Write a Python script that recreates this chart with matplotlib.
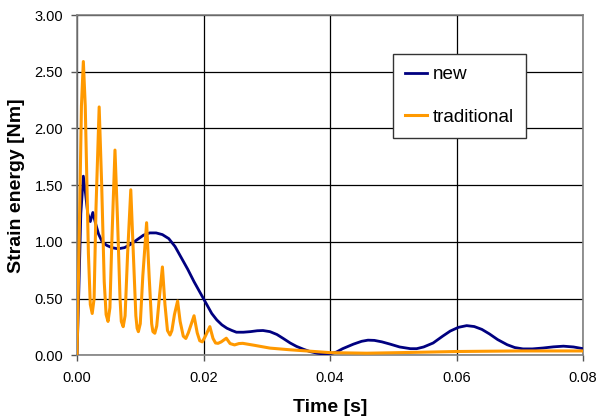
import matplotlib
matplotlib.use("Agg")
import matplotlib.pyplot as plt

plt.rcParams['font.family'] = ['Liberation Sans', 'DejaVu Sans']

# values
t_new = [0.0, 0.0003, 0.0006, 0.001, 0.0013, 0.0017, 0.0021, 0.0025, 0.0029, 0.0034,
         0.004, 0.0047, 0.0055, 0.0065, 0.0075, 0.0085, 0.0095, 0.0105, 0.0115, 0.0125,
         0.0135, 0.0145, 0.0155, 0.0165, 0.0175, 0.0185, 0.0195, 0.0205, 0.0213, 0.0221,
         0.0229, 0.0237, 0.0245, 0.0252, 0.0263, 0.0274, 0.0285, 0.0294, 0.0305, 0.0316,
         0.0326, 0.0337, 0.0347, 0.0358, 0.0368, 0.038, 0.039, 0.04, 0.041, 0.042,
         0.0437, 0.045, 0.046, 0.047, 0.0482, 0.0495, 0.051, 0.0527, 0.0537, 0.0548,
         0.0563, 0.0578, 0.059, 0.0603, 0.0616, 0.0628, 0.064, 0.0652, 0.0665, 0.068,
         0.0692, 0.0705, 0.072, 0.0737, 0.0753, 0.0769, 0.0785, 0.08]
e_new = [0.0, 0.6, 1.25, 1.58, 1.45, 1.25, 1.18, 1.26, 1.17, 1.07,
         1.0, 0.97, 0.95, 0.94, 0.95, 0.98, 1.02, 1.06, 1.08, 1.08,
         1.065, 1.03, 0.96, 0.86, 0.76, 0.65, 0.55, 0.45, 0.37, 0.313,
         0.27, 0.24, 0.22, 0.205, 0.205, 0.21, 0.218, 0.22, 0.21, 0.185,
         0.15, 0.11, 0.08, 0.055, 0.035, 0.02, 0.013, 0.015, 0.03, 0.06,
         0.1, 0.125, 0.135, 0.133, 0.12, 0.1, 0.075, 0.06, 0.06, 0.075,
         0.11, 0.17, 0.215, 0.248, 0.263, 0.255, 0.23, 0.19, 0.14, 0.095,
         0.07, 0.058, 0.058, 0.066, 0.076, 0.082, 0.075, 0.06]

t_trad = [0.0, 0.0003, 0.0007, 0.001, 0.0013, 0.0018, 0.0021, 0.0024, 0.0027, 0.003,
          0.0035, 0.0039, 0.0043, 0.0046, 0.0049, 0.0052, 0.0055, 0.006, 0.0064, 0.0068,
          0.007, 0.0073, 0.0076, 0.008, 0.0085, 0.0089, 0.0093, 0.0095, 0.0097, 0.01,
          0.0104, 0.011, 0.0114, 0.0118, 0.012, 0.0123, 0.0126, 0.013, 0.0135, 0.0139,
          0.0143, 0.0147, 0.015, 0.0154, 0.0159, 0.0163, 0.0168, 0.0172, 0.0176, 0.0185,
          0.019, 0.0194, 0.0198, 0.0202, 0.021, 0.0215, 0.0219, 0.0223, 0.0228, 0.0236,
          0.0242, 0.0249, 0.0256, 0.0262, 0.028, 0.0305, 0.0337, 0.0368, 0.04, 0.0458,
          0.052, 0.06, 0.07, 0.08]
e_trad = [0.0, 0.9, 2.2, 2.59, 2.2, 0.9, 0.45, 0.37, 0.5, 1.3,
          2.19, 1.5, 0.65, 0.36, 0.30, 0.42, 1.0, 1.81, 1.2, 0.5,
          0.3, 0.254, 0.35, 0.9, 1.46, 0.9, 0.35, 0.24, 0.21, 0.28,
          0.7, 1.17, 0.7, 0.28, 0.21, 0.196, 0.26, 0.5, 0.78, 0.45,
          0.22, 0.18, 0.22, 0.36, 0.48, 0.3, 0.17, 0.15, 0.2, 0.35,
          0.2, 0.13, 0.12, 0.16, 0.254, 0.15, 0.11, 0.107, 0.12, 0.152,
          0.105, 0.093, 0.105, 0.107, 0.09, 0.065, 0.05, 0.038, 0.025, 0.02,
          0.026, 0.035, 0.04, 0.04]

x_ticks = [0.0, 0.02, 0.04, 0.06, 0.08]
y_ticks = [0.0, 0.5, 1.0, 1.5, 2.0, 2.5, 3.0]

fig = plt.figure(figsize=(5.98, 4.19), dpi=100)
ax = fig.add_axes([0.1288, 0.1516, 0.8462, 0.8126])

ax.plot(t_new, e_new, color='#000080', lw=2.0, label='new', zorder=3)
ax.plot(t_trad, e_trad, color='#FF9900', lw=2.2, label='traditional', zorder=3)

ax.set_xlim(0, 0.08)
ax.set_ylim(0, 3.0)
ax.set_xticks(x_ticks)
ax.set_yticks(y_ticks)
ax.set_xticklabels([f"{v:.2f}" for v in x_ticks])
ax.set_yticklabels([f"{v:.2f}" for v in y_ticks])
ax.tick_params(direction='out', length=4, width=1, colors='#555555', labelcolor='black',
               labelsize=10.5)
ax.tick_params(axis='x', pad=7.5)
ax.tick_params(axis='y', pad=6)
ax.grid(True, color='black', lw=0.9)
for s in ax.spines.values():
    s.set_color('#808080')
    s.set_linewidth(1.2)

ax.set_xlabel('Time [s]', fontsize=14, fontweight='bold', labelpad=10)
ax.set_ylabel('Strain energy [Nm]', fontsize=14, fontweight='bold', labelpad=7)

leg = ax.legend(loc='upper left', bbox_to_anchor=(0.624, 0.885), fontsize=13.6,
                frameon=True, fancybox=False, edgecolor='#333333', framealpha=1,
                handlelength=1.16, handletextpad=0.3, labelspacing=1.32,
                borderpad=0.64, borderaxespad=0)
leg.get_frame().set_linewidth(1.0)

fig.savefig('out.png', dpi=100)
